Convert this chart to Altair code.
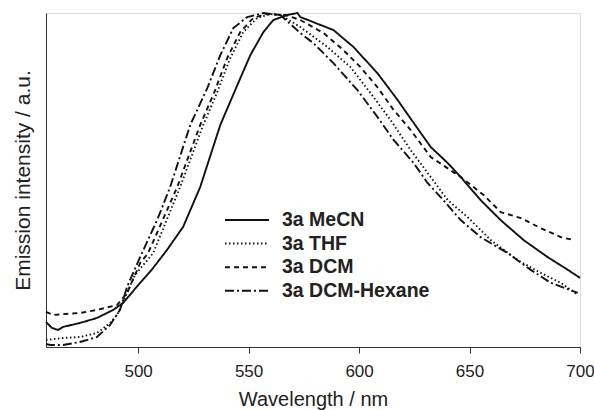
import altair as alt
import pandas as pd

series_names = ["3a MeCN", "3a THF", "3a DCM", "3a DCM-Hexane"]

mecn_wl = [458.3, 461.0, 463.7, 466.0, 473.7, 481.4, 488.7, 493.2, 500.0, 506.0, 513.0, 520.4, 528.1,
           537.2, 544.9, 550.8, 556.7, 561.2, 567.5, 572.1, 573.4, 588.4, 597.5, 608.3, 617.4,
           624.7, 632.4, 640.1, 646.0, 655.0, 664.1, 674.5, 685.4, 694.5, 700.0]
mecn_val = [0.075, 0.057, 0.051, 0.060, 0.072, 0.087, 0.111, 0.132, 0.185, 0.230, 0.290, 0.360, 0.479,
            0.665, 0.784, 0.874, 0.943, 0.979, 0.994, 1.000, 0.988, 0.949, 0.898, 0.820, 0.740,
            0.671, 0.599, 0.551, 0.509, 0.440, 0.380, 0.320, 0.269, 0.231, 0.207]

thf_wl = [458.3, 466.0, 473.7, 481.4, 487.3, 490.5, 493.2, 498.6, 506.8, 519.0, 529.5, 535.8,
          541.7, 547.6, 553.9, 559.8, 564.4, 573.4, 585.7, 596.1, 605.2, 614.2, 623.3, 632.4,
          640.1, 649.1, 659.6, 671.8, 682.2, 691.3, 699.0]
thf_val = [0.021, 0.027, 0.030, 0.042, 0.072, 0.096, 0.135, 0.216, 0.281, 0.479, 0.665, 0.763,
           0.865, 0.943, 0.985, 0.997, 0.994, 0.958, 0.898, 0.838, 0.760, 0.680, 0.590, 0.509,
           0.440, 0.389, 0.320, 0.260, 0.222, 0.192, 0.156]

dcm_wl = [458.3, 461.5, 473.7, 481.4, 490.5, 495.0, 500.9, 504.5, 517.7, 528.1, 534.5, 540.3,
          546.2, 552.1, 557.6, 566.6, 573.4, 583.9, 592.9, 600.6, 608.3, 615.6, 623.3, 632.4,
          646.0, 656.4, 664.1, 673.2, 682.2, 691.3, 697.2]
dcm_val = [0.105, 0.096, 0.102, 0.111, 0.126, 0.162, 0.251, 0.281, 0.479, 0.665, 0.763, 0.865,
           0.943, 0.985, 0.997, 0.994, 0.979, 0.940, 0.889, 0.838, 0.778, 0.710, 0.650, 0.569,
           0.509, 0.455, 0.404, 0.386, 0.356, 0.329, 0.320]

hex_wl = [458.3, 460.1, 466.0, 473.7, 481.4, 487.3, 491.8, 495.0, 500.9, 508.6, 514.5, 523.6,
          531.3, 537.2, 543.1, 549.4, 556.7, 564.4, 573.4, 579.3, 588.4, 599.3, 608.3, 615.6,
          624.7, 631.0, 636.9, 646.0, 655.0, 667.3, 677.7, 686.8, 699.0]
hex_val = [0.009, 0.006, 0.006, 0.015, 0.030, 0.066, 0.111, 0.180, 0.269, 0.380, 0.479, 0.665,
           0.775, 0.874, 0.955, 0.988, 1.000, 0.994, 0.940, 0.910, 0.850, 0.769, 0.689, 0.620,
           0.551, 0.491, 0.449, 0.380, 0.329, 0.281, 0.231, 0.192, 0.162]

x_ticks = [500, 550, 600, 650, 700]

frames = []
for name, wl, val in [(series_names[0], mecn_wl, mecn_val),
                      (series_names[1], thf_wl, thf_val),
                      (series_names[2], dcm_wl, dcm_val),
                      (series_names[3], hex_wl, hex_val)]:
    frames.append(pd.DataFrame({"wavelength": wl, "intensity": val, "series": name}))
df = pd.concat(frames, ignore_index=True)

FONT = "Liberation Sans"
TXT = "#222222"

chart = alt.Chart(df).mark_line(strokeWidth=1.9, color="#111111").encode(
    x=alt.X("wavelength:Q",
            scale=alt.Scale(domain=[458.3, 700], nice=False, zero=False),
            axis=alt.Axis(title="Wavelength / nm", values=x_ticks, grid=False,
                          tickSize=6, tickColor="#333333", domainColor="#333333",
                          labelFontSize=17, labelColor=TXT, labelFont=FONT, labelPadding=10,
                          titleFontSize=20, titleFont=FONT, titleColor=TXT,
                          titleFontWeight="normal", titleY=58, titleBaseline="alphabetic",
                          labelFlush=False)),
    y=alt.Y("intensity:Q",
            scale=alt.Scale(domain=[0, 1], nice=False),
            axis=alt.Axis(title="Emission intensity / a.u.", grid=False, ticks=False,
                          labels=False, domainColor="#333333",
                          titleFontSize=21, titleFont=FONT, titleColor=TXT,
                          titleFontWeight="normal", titleX=-17, titleY=167,
                          titleAlign="center", titleBaseline="alphabetic")),
    strokeDash=alt.StrokeDash("series:N",
                              scale=alt.Scale(domain=series_names,
                                              range=[[1, 0], [1.5, 2.5], [5, 4], [9, 3, 2, 3]]),
                              legend=alt.Legend(title=None, orient="none", legendX=190, legendY=196,
                                                symbolType="M-2.2,0H2.2", symbolSize=400,
                                                symbolStrokeWidth=2, symbolStrokeColor="#111111",
                                                symbolFillColor="transparent",
                                                labelFontSize=19.5, labelFontWeight="bold",
                                                labelFont=FONT, labelColor=TXT, labelOffset=24,
                                                rowPadding=2.6)),
).properties(
    width=534, height=334,
    autosize=alt.AutoSizeParams(type="none"),
    padding={"left": 46, "top": 13, "right": 14, "bottom": 63},
).configure_view(stroke=None).configure(background="white")

chart.save("out.html", embed_options={"renderer": "svg", "actions": False})
